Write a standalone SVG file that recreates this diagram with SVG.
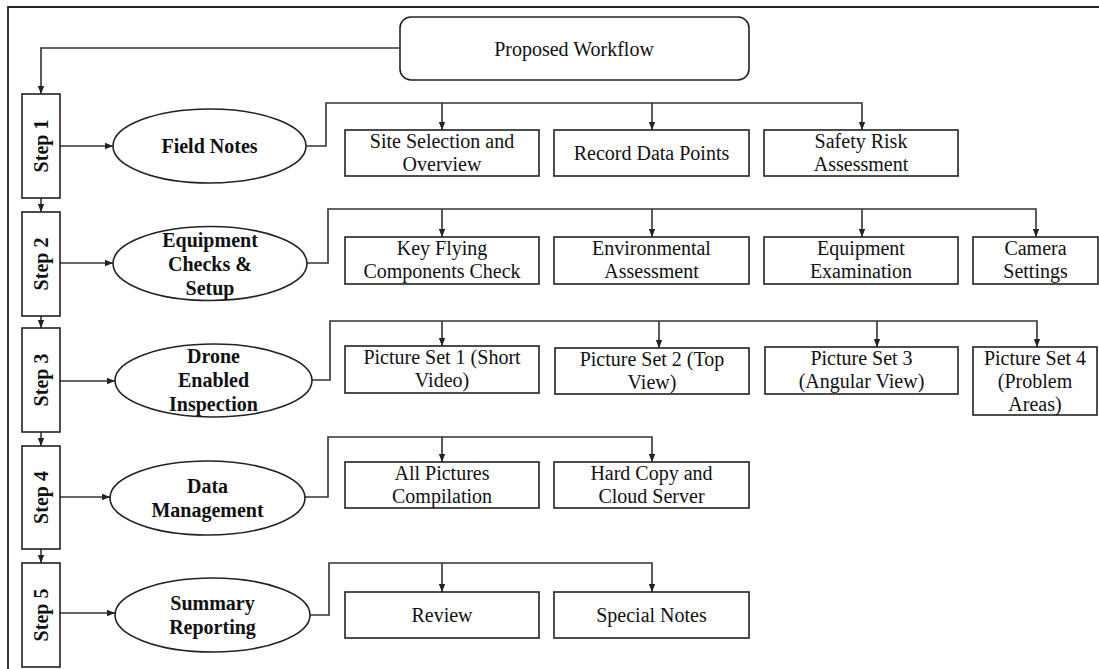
<svg xmlns="http://www.w3.org/2000/svg" width="1099" height="669" viewBox="0 0 1099 669">
<defs>
<marker id="ah" markerUnits="userSpaceOnUse" markerWidth="8" markerHeight="8" viewBox="0 0 8 8" refX="8" refY="4" orient="auto">
<path d="M0,0.8 L8,4 L0,7.2 Z" fill="#222"/>
</marker>
<style>
.ln{fill:none;stroke:#333;stroke-width:1.6}
.bx{fill:#fff;stroke:#222;stroke-width:1.6}
.t{font-family:"Liberation Serif","Times New Roman",serif;font-size:20px;fill:#111;text-anchor:middle}
.b{font-weight:bold}
</style>
</defs>
<rect width="1099" height="669" fill="#fff"/>
<path d="M8,669 V7 H1099" fill="none" stroke="#222" stroke-width="1.8"/>

<g id="connectors">
<path class="ln" d="M399,48 H41 V94" marker-end="url(#ah)"/>
<path class="ln" d="M41,198 V212" marker-end="url(#ah)"/>
<path class="ln" d="M41,316 V328" marker-end="url(#ah)"/>
<path class="ln" d="M41,432 V446" marker-end="url(#ah)"/>
<path class="ln" d="M41,549 V563" marker-end="url(#ah)"/>
<path class="ln" d="M60,146 H113" marker-end="url(#ah)"/>
<path class="ln" d="M60,263 H113" marker-end="url(#ah)"/>
<path class="ln" d="M60,381 H115" marker-end="url(#ah)"/>
<path class="ln" d="M60,497 H110" marker-end="url(#ah)"/>
<path class="ln" d="M60,613 H115" marker-end="url(#ah)"/>
<path class="ln" d="M306,146 H326 V103 H862 V130" marker-end="url(#ah)"/>
<path class="ln" d="M442,103 V130" marker-end="url(#ah)"/>
<path class="ln" d="M652,103 V130" marker-end="url(#ah)"/>
<path class="ln" d="M307,263 H328 V209 H1036 V237" marker-end="url(#ah)"/>
<path class="ln" d="M442,209 V237" marker-end="url(#ah)"/>
<path class="ln" d="M652,209 V237" marker-end="url(#ah)"/>
<path class="ln" d="M862,209 V237" marker-end="url(#ah)"/>
<path class="ln" d="M312,380 H330 V321 H1037 V347" marker-end="url(#ah)"/>
<path class="ln" d="M442,321 V346" marker-end="url(#ah)"/>
<path class="ln" d="M659,321 V348" marker-end="url(#ah)"/>
<path class="ln" d="M877,321 V347" marker-end="url(#ah)"/>
<path class="ln" d="M305,497 H328 V437 H652 V462" marker-end="url(#ah)"/>
<path class="ln" d="M442,437 V462" marker-end="url(#ah)"/>
<path class="ln" d="M310,615 H329 V563 H652 V592" marker-end="url(#ah)"/>
<path class="ln" d="M442,563 V592" marker-end="url(#ah)"/>
</g>

<g id="title">
<rect class="bx" x="400" y="17" width="349" height="63" rx="11"/>
<text class="t" x="574" y="56">Proposed Workflow</text>
</g>

<g id="step1"><rect class="bx" x="22" y="94" width="38" height="104"/><text class="t b" transform="translate(48,146) rotate(-90)">Step 1</text></g>
<g id="step2"><rect class="bx" x="22" y="212" width="38" height="104"/><text class="t b" transform="translate(48,264) rotate(-90)">Step 2</text></g>
<g id="step3"><rect class="bx" x="22" y="328" width="38" height="104"/><text class="t b" transform="translate(48,380) rotate(-90)">Step 3</text></g>
<g id="step4"><rect class="bx" x="22" y="446" width="38" height="103"/><text class="t b" transform="translate(48,497.5) rotate(-90)">Step 4</text></g>
<g id="step5"><rect class="bx" x="22" y="563" width="38" height="104"/><text class="t b" transform="translate(48,615) rotate(-90)">Step 5</text></g>

<g id="e1"><ellipse class="bx" cx="209.5" cy="146" rx="96.5" ry="37"/><text class="t b" x="209.5" y="153">Field Notes</text></g>
<g id="e2"><ellipse class="bx" cx="210" cy="263.5" rx="97" ry="37"/><text class="t b" x="210" y="247">Equipment</text><text class="t b" x="210" y="271">Checks &amp;</text><text class="t b" x="210" y="295">Setup</text></g>
<g id="e3"><ellipse class="bx" cx="213.5" cy="380.5" rx="98.5" ry="36.5"/><text class="t b" x="213.5" y="363">Drone</text><text class="t b" x="213.5" y="387">Enabled</text><text class="t b" x="213.5" y="411">Inspection</text></g>
<g id="e4"><ellipse class="bx" cx="207.5" cy="498" rx="97.5" ry="37"/><text class="t b" x="207.5" y="493">Data</text><text class="t b" x="207.5" y="517">Management</text></g>
<g id="e5"><ellipse class="bx" cx="212.5" cy="615" rx="97.5" ry="37"/><text class="t b" x="212.5" y="610">Summary</text><text class="t b" x="212.5" y="634">Reporting</text></g>

<g id="r1a"><rect class="bx" x="345" y="130" width="194" height="46"/><text class="t" x="442" y="148">Site Selection and</text><text class="t" x="442" y="171">Overview</text></g>
<g id="r1b"><rect class="bx" x="554" y="130" width="195" height="46"/><text class="t" x="651.5" y="160">Record Data Points</text></g>
<g id="r1c"><rect class="bx" x="764" y="130" width="194" height="46"/><text class="t" x="861" y="148">Safety Risk</text><text class="t" x="861" y="171">Assessment</text></g>

<g id="r2a"><rect class="bx" x="345" y="237" width="194" height="47"/><text class="t" x="442" y="255">Key Flying</text><text class="t" x="442" y="278">Components Check</text></g>
<g id="r2b"><rect class="bx" x="554" y="237" width="195" height="47"/><text class="t" x="651.5" y="255">Environmental</text><text class="t" x="651.5" y="278">Assessment</text></g>
<g id="r2c"><rect class="bx" x="764" y="237" width="194" height="47"/><text class="t" x="861" y="255">Equipment</text><text class="t" x="861" y="278">Examination</text></g>
<g id="r2d"><rect class="bx" x="973" y="237" width="125" height="47"/><text class="t" x="1035.5" y="255">Camera</text><text class="t" x="1035.5" y="278">Settings</text></g>

<g id="r3a"><rect class="bx" x="345" y="346" width="194" height="47"/><text class="t" x="442" y="364">Picture Set 1 (Short</text><text class="t" x="442" y="387">Video)</text></g>
<g id="r3b"><rect class="bx" x="555" y="348" width="194" height="46"/><text class="t" x="652" y="366">Picture Set 2 (Top</text><text class="t" x="652" y="389">View)</text></g>
<g id="r3c"><rect class="bx" x="765" y="347" width="193" height="47"/><text class="t" x="861.5" y="365">Picture Set 3</text><text class="t" x="861.5" y="388">(Angular View)</text></g>
<g id="r3d"><rect class="bx" x="973" y="347" width="124" height="68"/><text class="t" x="1035" y="365">Picture Set 4</text><text class="t" x="1035" y="388">(Problem</text><text class="t" x="1035" y="411">Areas)</text></g>

<g id="r4a"><rect class="bx" x="345" y="462" width="194" height="46"/><text class="t" x="442" y="480">All Pictures</text><text class="t" x="442" y="503">Compilation</text></g>
<g id="r4b"><rect class="bx" x="554" y="462" width="195" height="46"/><text class="t" x="651.5" y="480">Hard Copy and</text><text class="t" x="651.5" y="503">Cloud Server</text></g>

<g id="r5a"><rect class="bx" x="345" y="592" width="194" height="46"/><text class="t" x="442" y="622">Review</text></g>
<g id="r5b"><rect class="bx" x="554" y="592" width="195" height="46"/><text class="t" x="651.5" y="622">Special Notes</text></g>
</svg>
